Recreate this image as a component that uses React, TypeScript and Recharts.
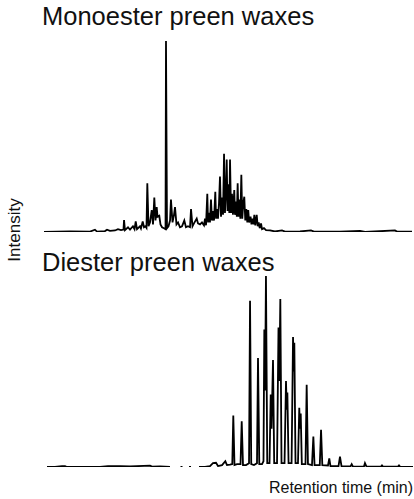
import { LineChart, Line, XAxis, YAxis } from 'recharts';

// Retention time (min, 0-40) and relative intensity (% of tallest peak)
const monoTrace: [number, number][] = [
  [0, 0], [2.83, 0.3], [5.0, 0.2], [5.54, 1.2], [5.76, 0.2], [6.63, 0.5], [6.85, 1.2], [7.17, 0.6],
  [7.72, 0.8], [8.04, 1.5], [8.37, 1], [8.64, 1.3], [8.7, 6.3], [8.8, 1], [9.13, 2.5], [9.35, 1.2],
  [9.67, 3], [9.84, 1.5], [9.97, 5.5], [10.11, 1.5], [10.43, 3], [10.54, 1.8], [10.73, 5.5], [10.87, 2.5],
  [11.03, 3], [11.14, 2.2], [11.23, 25.5], [11.36, 3], [11.52, 5], [11.71, 11.5], [11.85, 4], [11.99, 18],
  [12.12, 6], [12.25, 13], [12.34, 8], [12.53, 8.5], [12.66, 4], [12.83, 2.5], [13.04, 2], [13.21, 1.5],
  [13.26, 100], [13.37, 2], [13.53, 3], [13.7, 6], [13.8, 17], [13.97, 5], [14.13, 9], [14.24, 13],
  [14.4, 4], [14.57, 5], [14.78, 2.5], [15.0, 3], [15.25, 6], [15.43, 2.5], [15.65, 3], [15.87, 2.5],
  [15.98, 12], [16.14, 3], [16.3, 4.5], [16.6, 7], [16.74, 4.5], [16.96, 4], [17.17, 5], [17.39, 3.5],
  [17.5, 7], [17.61, 3.5], [17.75, 20], [17.83, 5], [17.93, 10], [18.04, 5], [18.15, 17], [18.26, 6],
  [18.37, 11], [18.48, 6], [18.62, 21], [18.7, 7], [18.8, 12], [18.91, 7], [19.02, 15], [19.13, 29],
  [19.24, 8], [19.35, 18], [19.46, 9], [19.57, 41], [19.67, 10], [19.78, 22], [19.86, 38], [19.95, 11],
  [20.05, 25], [20.14, 10], [20.22, 38], [20.33, 10], [20.43, 20], [20.54, 9], [20.68, 22], [20.76, 9],
  [20.87, 16], [20.96, 8], [21.05, 25.5], [21.14, 8], [21.25, 17], [21.34, 7], [21.45, 30], [21.55, 7],
  [21.66, 15], [21.77, 18.5], [21.88, 6], [21.99, 12], [22.1, 5], [22.2, 11.5], [22.3, 5], [22.45, 8],
  [22.55, 4], [22.66, 7], [22.77, 4], [22.86, 9], [22.97, 3.5], [23.12, 9], [23.23, 3], [23.34, 5],
  [23.45, 2], [23.59, 4.5], [23.7, 1.5], [23.91, 2], [24.13, 1], [24.57, 0.8], [25.1, 0.3], [25.87, 0.8],
  [26.2, 0.2], [27.83, 0.3], [29.02, 0.8], [29.35, 0.2], [32.17, 0.2], [34.35, 0.6], [34.9, 0.1],
  [36.5, 0.4], [38.15, 0.8], [38.37, 0.2], [40, 0.2],
];

const diTrace: [number, number | null][] = [
  [0, 0], [0.87, 0], [1.64, 0.4], [1.97, 0.5], [2.19, 0], [5.79, 0], [6.67, 0.5], [7.98, 0.5],
  [9.07, 0.3], [11.26, 0.7], [11.48, 0.2], [12.35, 0.3], [13.44, 0], [13.9, null],
  [14.59, 0], [14.81, 0], [15.1, null], [15.52, 0], [15.74, 0], [16.2, null],
  [16.61, 0], [17.27, 0], [17.81, 0.5], [18.14, 2], [18.47, 2.2], [18.69, 0.5], [19.13, 1], [19.49, 3],
  [19.67, 1], [20.0, 1.2], [20.25, 1.5], [20.36, 27], [20.49, 1], [20.77, 1.5], [21.15, 1.5], [21.28, 24],
  [21.42, 1], [21.75, 1], [22.08, 2], [22.19, 87], [22.32, 1.5], [22.62, 1], [22.95, 2], [23.06, 57],
  [23.2, 1.5], [23.5, 1.5], [23.66, 3], [23.75, 72], [23.83, 40], [23.93, 100], [24.07, 2], [24.32, 2],
  [24.45, 38], [24.54, 20], [24.7, 56], [24.83, 2], [25.14, 2], [25.3, 73], [25.39, 45], [25.5, 88],
  [25.63, 2], [25.96, 2], [26.12, 45], [26.2, 30], [26.27, 39], [26.4, 2], [26.73, 2], [26.89, 68],
  [26.96, 50], [27.03, 65], [27.16, 2], [27.43, 2], [27.57, 31], [27.65, 20], [27.73, 28], [27.85, 1.5],
  [28.25, 1.5], [28.38, 43], [28.52, 1.5], [28.96, 1], [29.11, 16], [29.24, 1], [29.81, 1], [29.95, 19.5],
  [30.09, 1], [30.71, 0.8], [30.85, 4.5], [30.98, 0.5], [31.86, 0.5], [32.02, 5.4], [32.19, 0.3],
  [33.17, 0.3], [33.3, 1.5], [33.44, 0.2], [34.64, 0.2], [34.75, 2], [34.92, 0.2], [36.5, 0.2],
  [36.61, 0.8], [36.72, 0.2], [38.36, 0.2], [38.47, 0.8], [38.58, 0.2], [40, 0],
];

const titles = ['Monoester preen waxes', 'Diester preen waxes'];
const yLabel = 'Intensity';
const xLabel = 'Retention time (min)';

const monoData = monoTrace.map(([t, v]) => ({ t, v }));
const diData = diTrace.map(([t, v]) => ({ t, v }));

const font = '"Liberation Sans", Arial, Helvetica, sans-serif';

const Trace = ({ data, margin, height }: { data: { t: number; v: number | null }[]; margin: any; height: number }) => (
  <LineChart width={414} height={height} data={data} margin={margin}>
    <XAxis dataKey="t" type="number" domain={[0, 40]} hide />
    <YAxis type="number" domain={[0, 100]} hide allowDataOverflow />
    <Line
      dataKey="v"
      type="linear"
      stroke="#000"
      strokeWidth={1.8}
      strokeLinejoin="miter"
      dot={false}
      connectNulls={false}
      isAnimationActive={false}
    />
  </LineChart>
);

export default function App() {
  return (
    <div style={{ position: 'absolute', left: 0, top: 0, width: 414, height: 499, background: '#fff', fontFamily: font }}>
      <div style={{ position: 'absolute', left: 42, top: 0, fontSize: 25.5, lineHeight: '32px', color: '#111' }}>{titles[0]}</div>
      <div style={{ position: 'absolute', left: 0, top: 0 }}>
        <Trace data={monoData} height={240} margin={{ top: 41, right: 2, bottom: 8, left: 44 }} />
      </div>
      <div style={{ position: 'absolute', left: 42, top: 246, fontSize: 25.5, lineHeight: '32px', color: '#111' }}>{titles[1]}</div>
      <div style={{ position: 'absolute', left: 0, top: 250 }}>
        <Trace data={diData} height={230} margin={{ top: 26, right: 1, bottom: 13, left: 47 }} />
      </div>
      <div
        style={{
          position: 'absolute',
          left: 15,
          top: 230,
          fontSize: 17,
          color: '#111',
          transform: 'translate(-50%, -50%) rotate(-90deg)',
          whiteSpace: 'nowrap',
        }}
      >
        {yLabel}
      </div>
      <div style={{ position: 'absolute', right: 1, top: 478, fontSize: 16, lineHeight: '20px', color: '#111' }}>{xLabel}</div>
    </div>
  );
}
